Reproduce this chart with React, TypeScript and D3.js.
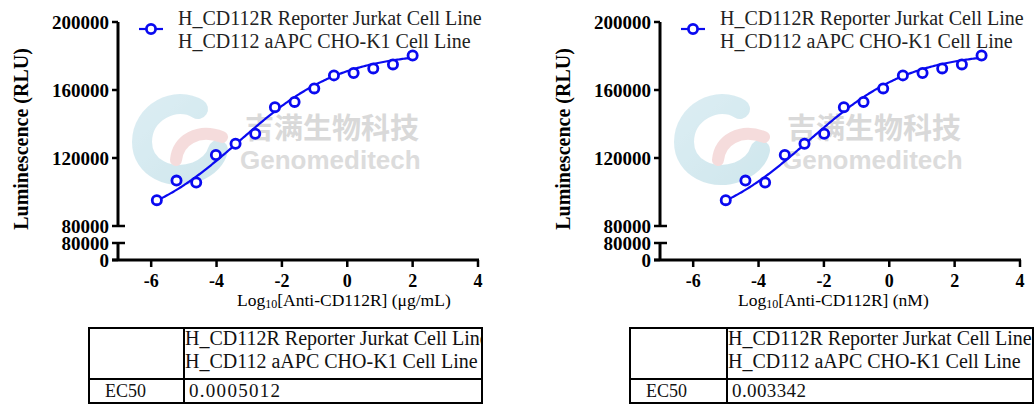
import React from 'react';
import * as d3 from 'd3';

// ---------- data ----------
const LOG_CONC_UG = [-5.827, -5.225, -4.622, -4.02, -3.418, -2.816, -2.214, -1.612, -1.01, -0.408, 0.194, 0.796, 1.398, 2.0];
const LOG_CONC_NM = [-5.003, -4.401, -3.799, -3.197, -2.594, -1.992, -1.39, -0.788, -0.186, 0.416, 1.018, 1.62, 2.222, 2.824];
const RLU = [95200, 106700, 105600, 121800, 128400, 134250, 149900, 153000, 160950, 168600, 169970, 172700, 175050, 180300];
const EC50_UG = 0.0005012;
const EC50_NM = 0.003342;
const EC50_LABELS = ['0.0005012', '0.003342'];
const FIT_BOTTOM = 77600;
const FIT_TOP = 182400;
const FIT_HILL = 0.278;
const X_TICKS = [-6, -4, -2, 0, 2, 4];
const Y_TICKS_UPPER = [80000, 120000, 160000, 200000];
const Y_TICKS_LOWER = [0, 80000];
const LEGEND_LINES = ['H_CD112R Reporter Jurkat Cell Line', 'H_CD112 aAPC CHO-K1 Cell Line'];
const X_UNITS = ['(\u03bcg/mL)', '(nM)'];

const SERIF = "'Liberation Serif', 'Times New Roman', serif";
const BLUE = '#0a0af0';

function fit(x: number, logEc50: number) {
  return FIT_BOTTOM + (FIT_TOP - FIT_BOTTOM) / (1 + Math.pow(10, (logEc50 - x) * FIT_HILL));
}

function Panel({ ox, xs, ec50, unit, titleX }: { ox: number; xs: number[]; ec50: number; unit: string; titleX: number }) {
  const x = d3.scaleLinear().domain([-7, 4]).range([ox + 0.5, ox + 360]);
  const yU = d3.scaleLinear().domain([80000, 200000]).range([226, 22]);
  const yL = d3.scaleLinear().domain([0, 80000]).range([260, 243]);
  const logEc = Math.log10(ec50);
  const [x0, x1] = d3.extent(xs) as [number, number];
  const curvePts = d3.range(0, 201).map((i) => {
    const xv = x0 + ((x1 - x0) * i) / 200;
    return [xv, fit(xv, logEc)] as [number, number];
  });
  const line = d3
    .line<[number, number]>()
    .x((d) => x(d[0]))
    .y((d) => yU(d[1]))
    .curve(d3.curveLinear);
  const axisX = ox;
  const gid = 'wm' + ox;
  return (
    <g>
      <defs>
        <linearGradient id={gid + 'b'} x1="0" y1="0" x2="1" y2="1">
          <stop offset="0" stopColor="#c4e2ec" />
          <stop offset="1" stopColor="#b2d8e2" />
        </linearGradient>
      </defs>
      {/* watermark */}
      <g opacity={0.6}>
        <path
          d={`M ${axisX + 80} ${109} C ${axisX + 58} ${95}, ${axisX + 24} ${112}, ${axisX + 24} ${142} C ${axisX + 24} ${168}, ${axisX + 52} ${181}, ${axisX + 78} ${172} C ${axisX + 92} ${166}, ${axisX + 98} ${158}, ${axisX + 100} ${150}`}
          fill="none"
          stroke={`url(#${gid}b)`}
          strokeWidth={20}
          strokeLinecap="round"
        />
        <path
          d={`M ${axisX + 58} ${160} C ${axisX + 60} ${140}, ${axisX + 80} ${128}, ${axisX + 104} ${137}`}
          fill="none"
          stroke="#f0c6c6"
          strokeWidth={12}
          strokeLinecap="round"
        />
      </g>
      <text x={axisX + 127} y={139} fontFamily="'Noto Sans CJK SC', sans-serif" fontWeight="bold" fontSize={29} fill="#d9d9d9">
        吉满生物科技
      </text>
      <text x={axisX + 122} y={169} fontFamily="'Liberation Sans', Arial, sans-serif" fontWeight="bold" fontSize={26} fill="#dcdcdc">
        Genomeditech
      </text>

      {/* y axis upper */}
      <line x1={axisX} x2={axisX} y1={yU(200000)} y2={yU(80000)} stroke="#000" strokeWidth={3} />
      {Y_TICKS_UPPER.map((t) => (
        <g key={'yu' + t}>
          <line x1={axisX - 6} x2={t === 80000 ? axisX + 7 : axisX} y1={yU(t)} y2={yU(t)} stroke="#000" strokeWidth={2.5} />
          <text x={axisX - 9} y={yU(t)} dy="0.35em" textAnchor="end" fontFamily={SERIF} fontWeight="bold" fontSize={19}>
            {t}
          </text>
        </g>
      ))}
      {/* y axis lower */}
      <line x1={axisX} x2={axisX} y1={yL(80000)} y2={yL(0)} stroke="#000" strokeWidth={3} />
      {Y_TICKS_LOWER.map((t) => (
        <g key={'yl' + t}>
          <line x1={axisX - 6} x2={t === 80000 ? axisX + 7 : axisX} y1={yL(t)} y2={yL(t)} stroke="#000" strokeWidth={2.5} />
          <text x={axisX - 9} y={yL(t)} dy="0.35em" textAnchor="end" fontFamily={SERIF} fontWeight="bold" fontSize={19}>
            {t}
          </text>
        </g>
      ))}
      {/* x axis */}
      <line x1={axisX - 6} x2={x(4) + 1} y1={yL(0)} y2={yL(0)} stroke="#000" strokeWidth={3} />
      {X_TICKS.map((t) => (
        <g key={'x' + t}>
          <line x1={x(t)} x2={x(t)} y1={yL(0)} y2={yL(0) + 7} stroke="#000" strokeWidth={2.5} />
          <text x={x(t)} y={287} textAnchor="middle" fontFamily={SERIF} fontWeight="bold" fontSize={18}>
            {t < 0 ? '-' + Math.abs(t) : t}
          </text>
        </g>
      ))}
      {/* titles */}
      <text
        transform={`translate(${axisX - 97},${139}) rotate(-90)`}
        textAnchor="middle"
        dy="0.35em"
        fontFamily={SERIF}
        fontWeight="bold"
        fontSize={20}
      >
        Luminescence (RLU)
      </text>
      <text x={titleX} y={306} fontFamily={SERIF} fontSize={17.5}>
        Log<tspan fontSize={12} dy={2}>10</tspan>
        <tspan dy={-2}>[Anti-CD112R] {unit}</tspan>
      </text>

      {/* fit curve and points */}
      <path d={line(curvePts) || ''} fill="none" stroke={BLUE} strokeWidth={2.2} />
      {xs.map((xv, i) => (
        <circle key={i} cx={x(xv)} cy={yU(RLU[i])} r={4.6} fill="#fff" stroke={BLUE} strokeWidth={2.8} />
      ))}

      {/* legend */}
      <line x1={axisX + 21} x2={axisX + 45} y1={29} y2={29} stroke={BLUE} strokeWidth={2.2} />
      <circle cx={axisX + 33} cy={29} r={4.6} fill="#fff" stroke={BLUE} strokeWidth={2.8} />
      {LEGEND_LINES.map((s, i) => (
        <text key={s} x={axisX + 60} y={25 + i * 22.5} fontFamily={SERIF} fontSize={20} fill="#222">
          {s}
        </text>
      ))}
    </g>
  );
}

function Table({ x0, x1, divX, label, labelLen, id }: { x0: number; x1: number; divX: number; label: string; labelLen: number; id: string }) {
  const top = 328;
  const mid = 379;
  const bot = 403;
  return (
    <g>
      <defs>
        <clipPath id={id}>
          <rect x={divX + 1} y={top} width={x1 - divX - 2} height={mid - top} />
        </clipPath>
      </defs>
      <rect x={x0} y={top} width={x1 - x0} height={bot - top} fill="#fff" stroke="#000" strokeWidth={2} />
      <line x1={divX} x2={divX} y1={top} y2={bot} stroke="#000" strokeWidth={2} />
      <line x1={x0} x2={x1} y1={mid} y2={mid} stroke="#000" strokeWidth={2} />
      <g clipPath={`url(#${id})`}>
        {LEGEND_LINES.map((s, i) => (
          <text key={s} x={divX + 1} y={345 + i * 23} fontFamily={SERIF} fontSize={20} fill="#111">
            {s}
          </text>
        ))}
      </g>
      <text x={x0 + 16} y={397} fontFamily={SERIF} fontSize={18} fill="#111">
        EC50
      </text>
      <text x={divX + 5} y={397} fontFamily={SERIF} fontSize={19} fill="#111" textLength={labelLen} lengthAdjust="spacing">
        {label}
      </text>
    </g>
  );
}

export default function App() {
  return (
    <svg width={1035} height={405} style={{ position: 'absolute', left: 0, top: 0, background: '#fff' }}>
      <rect width={1035} height={405} fill="#fff" />
      <Panel ox={118} xs={LOG_CONC_UG} ec50={EC50_UG} unit={X_UNITS[0]} titleX={237} />
      <Panel ox={660} xs={LOG_CONC_NM} ec50={EC50_NM} unit={X_UNITS[1]} titleX={738} />
      <Table x0={89} x1={482} divX={184} label={EC50_LABELS[0]} labelLen={91} id="clipA" />
      <Table x0={630} x1={1033} divX={727} label={EC50_LABELS[1]} labelLen={74} id="clipB" />
    </svg>
  );
}
